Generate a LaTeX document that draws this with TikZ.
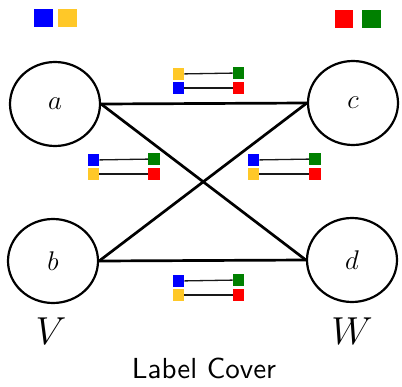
\RequirePackage{fix-cm}
\documentclass[tikz,border=0pt]{standalone}
\usepackage{fontspec}
\newfontfamily\titlesans{lmsans10-regular.otf}
\usetikzlibrary{shapes.geometric}
\definecolor{lblue}{RGB}{0,0,255}
\definecolor{lyellow}{RGB}{255,200,40}
\definecolor{lred}{RGB}{255,0,0}
\definecolor{lgreen}{RGB}{0,128,0}
\begin{document}
\begin{tikzpicture}[x=1pt,y=-1pt,
  vertex/.style={draw,ellipse,line width=2.2pt,minimum width=90pt,minimum height=84pt,inner sep=0pt,font=\fontsize{27}{30}\selectfont},
  edge/.style={line width=2.7pt},
  sq/.style={minimum size=11.5pt,inner sep=0pt,fill=#1},
  bigsq/.style={minimum size=18.5pt,inner sep=0pt,fill=#1},
  link/.style={line width=1.3pt,draw=black!90},
  side/.style={font=\fontsize{39}{42}\selectfont}]
\useasboundingbox (0,0) rectangle (402,386);

% vertices
\node[vertex] (a) at (55,104) {$a$};
\node[vertex] (b) at (53,261) {$b$};
\node[vertex] (c) at (353,103) {$c$};
\node[vertex] (d) at (352,260) {$d$};

% constraint edges
\draw[edge] (a.east) -- (c.west);
\draw[edge] (b.east) -- (d.west);
\draw[edge] (a.east) -- (d.west);
\draw[edge] (b.east) -- (c.west);

% label sets
\node[bigsq=lblue] (Lv1) at (43.5,18) {};
\node[bigsq=lyellow] (Lv2) at (67.5,18) {};
\node[bigsq=lred] (Lw1) at (344,19) {};
\node[bigsq=lgreen] (Lw2) at (371.5,19) {};

% projections on edge (a,c)
\node[sq=lyellow] (ac1) at (178.5,74) {};
\node[sq=lgreen] (ac2) at (238.5,73) {};
\node[sq=lblue] (ac3) at (178.5,88) {};
\node[sq=lred] (ac4) at (238.5,88) {};
\draw[link] (ac1) -- (ac2);
\draw[link] (ac3) -- (ac4);

% projections on edge (b,c)
\node[sq=lblue] (bc1) at (93.5,160) {};
\node[sq=lgreen] (bc2) at (154,159) {};
\node[sq=lyellow] (bc3) at (93.5,174) {};
\node[sq=lred] (bc4) at (154,174) {};
\draw[link] (bc1) -- (bc2);
\draw[link] (bc3) -- (bc4);

% projections on edge (a,d)
\node[sq=lblue] (ad1) at (253.5,160) {};
\node[sq=lgreen] (ad2) at (315,159) {};
\node[sq=lyellow] (ad3) at (253.5,174) {};
\node[sq=lred] (ad4) at (315,174) {};
\draw[link] (ad1) -- (ad2);
\draw[link] (ad3) -- (ad4);

% projections on edge (b,d)
\node[sq=lblue] (bd1) at (178.5,281) {};
\node[sq=lgreen] (bd2) at (238.5,280) {};
\node[sq=lyellow] (bd3) at (178.5,295) {};
\node[sq=lred] (bd4) at (238.5,295) {};
\draw[link] (bd1) -- (bd2);
\draw[link] (bd3) -- (bd4);

% side labels and title
\node[side] (V) at (51,331) {$V$};
\node[side] (W) at (352,331) {$W$};
\node[font=\titlesans\fontsize{29}{32}\selectfont,anchor=base,inner sep=0pt] (title) at (204,378.5) {Label Cover};
\end{tikzpicture}
\end{document}
